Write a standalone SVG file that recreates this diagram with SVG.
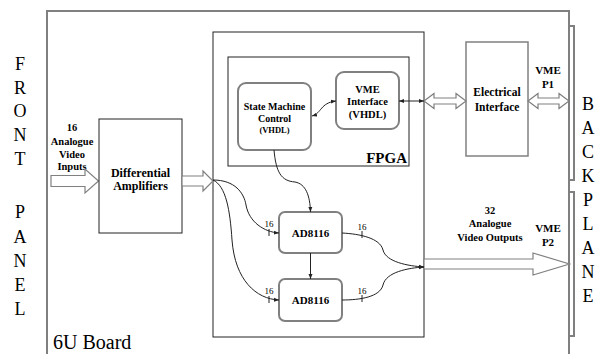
<svg xmlns="http://www.w3.org/2000/svg" width="605" height="354" viewBox="0 0 605 354" font-family="'Liberation Serif', 'Times New Roman', serif">
<style>
.gray{fill:none;stroke:#808080;stroke-width:2}
.blk{fill:none;stroke:#222;stroke-width:1}
.rbox{fill:#fff;stroke:#808080;stroke-width:2}
.harrow{fill:#fff;stroke:#808080;stroke-width:1.2;stroke-linejoin:miter}
.con{fill:none;stroke:#222;stroke-width:1}
text{font-family:'Liberation Serif','Times New Roman',serif;fill:#000;text-anchor:middle}
.b{font-weight:bold}
.side{font-size:18px}
</style>
<defs>
<marker id="ah" viewBox="0 0 10 10" refX="10" refY="5" markerWidth="5" markerHeight="5" orient="auto-start-reverse" markerUnits="userSpaceOnUse">
<path d="M0,1 L10,5 L0,9 z" fill="#222"/>
</marker>
</defs>
<rect width="605" height="354" fill="#fff"/>

<g id="board">
<rect class="gray" x="47" y="11" width="522" height="370"/>
<text x="53" y="349" font-size="20" style="text-anchor:start">6U Board</text>
</g>

<g id="front-panel">
<text class="side" x="20" y="70">F</text>
<text class="side" x="20" y="94">R</text>
<text class="side" x="20" y="117">O</text>
<text class="side" x="20" y="141">N</text>
<text class="side" x="20" y="165">T</text>
<text class="side" x="20" y="218">P</text>
<text class="side" x="20" y="243">A</text>
<text class="side" x="20" y="267">N</text>
<text class="side" x="20" y="291">E</text>
<text class="side" x="20" y="315">L</text>
</g>

<g id="backplane">
<polyline class="gray" points="569,26 574,26 574,180 569,180" stroke-width="1.5"/>
<polyline class="gray" points="569,192 574,192 574,336 569,336" stroke-width="1.5"/>
<text class="side" x="588" y="110">B</text>
<text class="side" x="588" y="134">A</text>
<text class="side" x="588" y="158">C</text>
<text class="side" x="588" y="182">K</text>
<text class="side" x="588" y="206">P</text>
<text class="side" x="588" y="230">L</text>
<text class="side" x="588" y="254">A</text>
<text class="side" x="588" y="278">N</text>
<text class="side" x="588" y="302">E</text>
</g>

<g id="inputs">
<text class="b" font-size="10.5" x="72" y="131">16</text>
<text class="b" font-size="10.5" x="72" y="145">Analogue</text>
<text class="b" font-size="10.5" x="72" y="158">Video</text>
<text class="b" font-size="10.5" x="72" y="170">Inputs</text>
<polygon class="harrow" points="51,175.5 85,175.5 85,169 98.5,181 85,193 85,186.5 51,186.5"/>
</g>

<g id="diff-amp">
<rect class="blk" x="99" y="119" width="83" height="114"/>
<text class="b" font-size="12" x="140.5" y="177">Differential</text>
<text class="b" font-size="12" x="140.5" y="190">Amplifiers</text>
</g>

<g id="carrier">
<rect class="blk" x="213" y="32" width="211" height="305"/>
</g>

<g id="fpga">
<rect class="blk" x="228" y="57" width="181" height="109"/>
<text class="b" font-size="15" x="407" y="163" style="text-anchor:end">FPGA</text>
</g>

<g id="state-machine">
<rect class="rbox" x="238" y="83" width="73" height="67" rx="8"/>
<text class="b" font-size="10" x="274.5" y="110">State Machine</text>
<text class="b" font-size="10" x="274.5" y="122">Control</text>
<text class="b" font-size="8.5" x="274.5" y="133">(VHDL)</text>
</g>

<g id="vme-interface">
<rect class="rbox" x="336" y="72" width="63" height="57" rx="8"/>
<text class="b" font-size="10.5" x="367.5" y="93">VME</text>
<text class="b" font-size="10.5" x="367.5" y="105">Interface</text>
<text class="b" font-size="10.5" x="367.5" y="118">(VHDL)</text>
</g>

<g id="electrical-interface">
<rect x="466" y="42" width="62" height="114" fill="#fff" stroke="#808080" stroke-width="1.5"/>
<text class="b" font-size="11.5" x="497" y="96">Electrical</text>
<text class="b" font-size="11.5" x="497" y="111">Interface</text>
</g>

<g id="ad8116-1">
<rect class="rbox" x="279" y="212" width="63" height="41" rx="6"/>
<text class="b" font-size="11" x="310.5" y="237">AD8116</text>
</g>

<g id="ad8116-2">
<rect class="rbox" x="279" y="279" width="63" height="42" rx="6"/>
<text class="b" font-size="11" x="310.5" y="304">AD8116</text>
</g>

<g id="labels">
<text class="b" font-size="11" x="548" y="74">VME</text>
<text class="b" font-size="11" x="548" y="88">P1</text>
<text class="b" font-size="10.5" x="490" y="214">32</text>
<text class="b" font-size="10.5" x="490" y="227">Analogue</text>
<text class="b" font-size="10.5" x="490" y="241">Video Outputs</text>
<text class="b" font-size="11" x="548" y="232">VME</text>
<text class="b" font-size="11" x="548" y="246">P2</text>
<text font-size="9" x="269" y="227">16</text>
<text font-size="9" x="269" y="294">16</text>
<text font-size="9" x="362" y="230">16</text>
<text font-size="9" x="362" y="294">16</text>
</g>

<g id="connectors">
<polygon class="harrow" points="182,176 203,176 203,171 213,181 203,191 203,186 182,186"/>
<polygon class="harrow" points="424,101 434,93.5 434,98 456,98 456,93.5 466,101 456,108.5 456,104 434,104 434,108.5"/>
<polygon class="harrow" points="528,101 538,93.5 538,98 559,98 559,93.5 569,101 559,108.5 559,104 538,104 538,108.5"/>
<polygon class="harrow" points="424,259 533,259 533,253 569.5,264 533,275 533,269 424,269"/>
<path class="con" d="M312,116 C322,113 320,103 336,101" marker-start="url(#ah)" marker-end="url(#ah)"/>
<path class="con" d="M424,101 L399,101" marker-start="url(#ah)" marker-end="url(#ah)"/>
<path class="con" d="M274,150 C276,172 281,181 295,182 C306,184 310,196 310.5,212" marker-end="url(#ah)"/>
<path class="con" d="M310.5,253 L310.5,279" marker-end="url(#ah)"/>
<path class="con" d="M213,180 C235,180 244,193 246,205 C249,222 264,232 279,233" marker-end="url(#ah)"/>
<path class="con" d="M213,180 C226,186 230,210 232,240 C235,280 256,299 279,300" marker-end="url(#ah)"/>
<path class="con" d="M342,233 C360,234 380,238 383,250 C386,262 408,266 424,267" marker-end="url(#ah)"/>
<path class="con" d="M342,300 C360,300 380,297 383,285 C386,272 408,268 424,267" marker-end="url(#ah)"/>
<path class="con" d="M269,229 V236 M269,296 V303 M362,231 V238 M362,295 V302"/>
</g>
</svg>
